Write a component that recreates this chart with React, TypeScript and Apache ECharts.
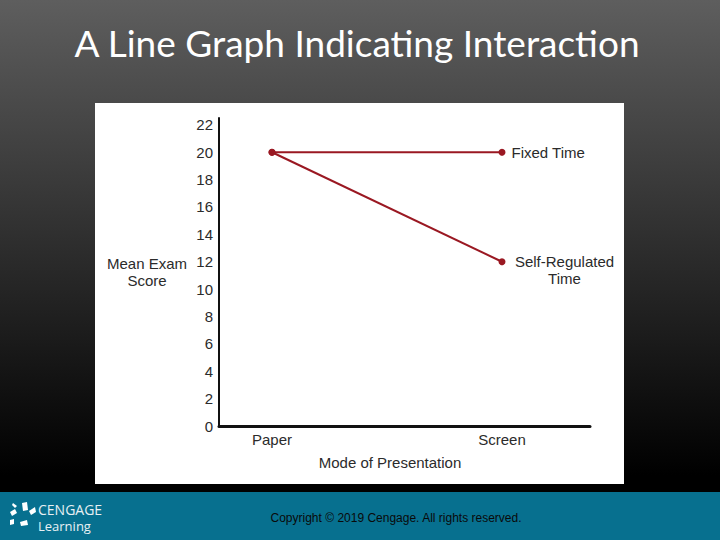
import React, { useEffect, useRef } from "react";
import * as echarts from "echarts";

const title = "A Line Graph Indicating Interaction";
const categories = ["Paper", "Screen"];
const fixedTime = [20, 20];
const selfRegulated = [20, 12];
const seriesNames = ["Fixed Time", "Self-Regulated\nTime"];
const yTicks = [0, 2, 4, 6, 8, 10, 12, 14, 16, 18, 20, 22];
const xAxisName = "Mode of Presentation";
const yAxisName = "Mean Exam\nScore";
const copyright = "Copyright © 2019 Cengage. All rights reserved.";

const RED = "#9a1822";
const TXT = "#2b2b2b";
const FONT = "'Liberation Sans', Arial, sans-serif";

export default function App() {
  const ref = useRef<HTMLDivElement>(null);
  useEffect(() => {
    if (!ref.current) return;
    const chart = echarts.init(ref.current, undefined, { renderer: "svg" });
    const mk = (vals: number[]) => vals.map((v, i) => [i, v]);
    const option: any = {
      animation: false,
      backgroundColor: new echarts.graphic.LinearGradient(0, 0, 0, 1, [
        { offset: 0, color: "#5e5e5e" },
        { offset: 0.88, color: "#000000" },
        { offset: 1, color: "#000000" },
      ]),
      grid: { left: 219, right: 130, top: 118, bottom: 114 },
      xAxis: {
        type: "value",
        min: -0.2304,
        max: 1.3826,
        splitLine: { show: false },
        axisTick: { show: false },
        axisLine: { show: true, onZero: false, lineStyle: { color: "#111", width: 3 } },
        axisLabel: {
          customValues: categories.map((_, i) => i),
          formatter: (v: number) => categories[Math.round(v)] ?? "",
          color: TXT,
          fontSize: 15,
          fontFamily: FONT,
          margin: 6,
        },
      },
      yAxis: {
        type: "value",
        min: 0,
        max: 22.5,
        splitLine: { show: false },
        axisTick: { show: false },
        axisLine: { show: true, onZero: false, lineStyle: { color: "#111", width: 2 } },
        axisLabel: {
          customValues: yTicks,
          color: TXT,
          fontSize: 15,
          fontFamily: FONT,
          margin: 6,
        },
        name: yAxisName,
        nameLocation: "middle",
        nameRotate: 0,
        nameGap: 72,
        nameTextStyle: { color: TXT, fontSize: 15, fontFamily: FONT, align: "center", lineHeight: 17 },
      },
      series: [
        {
          type: "line",
          name: seriesNames[0],
          data: mk(fixedTime),
          symbol: "circle",
          symbolSize: 7,
          lineStyle: { color: RED, width: 2 },
          itemStyle: { color: RED },
          label: {
            show: true,
            position: "right",
            distance: 6,
            color: TXT,
            fontSize: 15,
            fontFamily: FONT,
            formatter: (p: any) => (p.dataIndex === fixedTime.length - 1 ? seriesNames[0] : ""),
          },
        },
        {
          type: "line",
          name: seriesNames[1],
          data: mk(selfRegulated),
          symbol: "circle",
          symbolSize: 7,
          lineStyle: { color: RED, width: 2 },
          itemStyle: { color: RED },
          label: {
            show: true,
            position: "right",
            distance: 0,
            align: "center",
            offset: [59, 8],
            lineHeight: 17,
            color: TXT,
            fontSize: 15,
            fontFamily: FONT,
            formatter: (p: any) => (p.dataIndex === selfRegulated.length - 1 ? seriesNames[1] : ""),
          },
        },
      ],
      graphic: [
        { type: "rect", z: -10, shape: { x: 95, y: 103, width: 529, height: 381 }, style: { fill: "#ffffff" } },
        { type: "rect", z: -10, shape: { x: 0, y: 492, width: 720, height: 48 }, style: { fill: "#07708f" } },
        {
          type: "text",
          x: 357,
          y: 42,
          style: {
            text: title,
            fill: "#ffffff",
            font: "37px Lato, 'Open Sans', sans-serif",
            textAlign: "center",
            textVerticalAlign: "middle",
          },
        },
        {
          type: "text",
          x: 390,
          y: 462,
          style: {
            text: xAxisName,
            fill: TXT,
            font: `15px ${FONT}`,
            textAlign: "center",
            textVerticalAlign: "middle",
          },
        },
        {
          type: "text",
          x: 396,
          y: 518,
          style: {
            text: copyright,
            fill: "#0a0a0a",
            font: `12px ${FONT}`,
            textAlign: "center",
            textVerticalAlign: "middle",
          },
        },
        {
          type: "text",
          x: 38,
          y: 509,
          style: { text: "CENGAGE", fill: "#e8f0f4", font: "14px 'Open Sans', sans-serif", textVerticalAlign: "middle" },
        },
        {
          type: "text",
          x: 38,
          y: 526,
          style: { text: "Learning", fill: "#e8f0f4", font: "13px 'Open Sans', sans-serif", textVerticalAlign: "middle" },
        },
        { type: "polygon", shape: { points: [[22, 503], [27, 502], [28, 510], [23, 511]] }, style: { fill: "#ffffff" } },
        { type: "polygon", shape: { points: [[29, 511], [35, 507], [36, 512], [31, 515]] }, style: { fill: "#ffffff" } },
        { type: "polygon", shape: { points: [[10, 512], [15, 509], [17, 513], [12, 516]] }, style: { fill: "#ffffff" } },
        { type: "polygon", shape: { points: [[13, 503], [17, 506], [15, 508], [12, 505]] }, style: { fill: "#ffffff" } },
        { type: "polygon", shape: { points: [[10, 520], [14, 519], [14, 524], [10, 525]] }, style: { fill: "#ffffff" } },
        { type: "polygon", shape: { points: [[20, 522], [27, 520], [28, 525], [21, 526]] }, style: { fill: "#ffffff" } },
      ],
    };
    chart.setOption(option);
    return () => chart.dispose();
  }, []);
  return <div ref={ref} style={{ position: "fixed", left: 0, top: 0, width: 720, height: 540 }} />;
}
